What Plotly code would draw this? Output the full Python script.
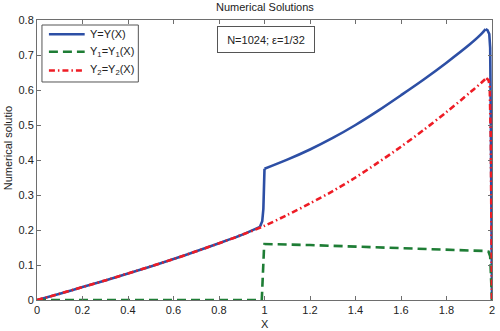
import plotly.graph_objects as go

# Solution Y on [0, 2]
x_y = [0, 0.1, 0.2, 0.3, 0.4, 0.5, 0.6, 0.7, 0.8, 0.9, 0.98, 0.99, 0.995, 0.998, 1.0,
       1.1, 1.2, 1.3, 1.4, 1.5, 1.6, 1.7, 1.8, 1.9, 1.95, 1.972, 1.98, 1.988, 1.992,
       1.995, 1.998, 2.0]
y_y = [0, 0.018, 0.037, 0.056, 0.076, 0.096, 0.117, 0.139, 0.162, 0.186, 0.209, 0.225,
       0.26, 0.32, 0.375, 0.401, 0.430, 0.463, 0.500, 0.541, 0.585, 0.630, 0.678, 0.729,
       0.758, 0.774, 0.771, 0.760, 0.72, 0.5, 0.15, 0]

# First component Y1
x_y1 = [0, 0.5, 0.988, 0.998, 1.0, 1.2, 1.4, 1.6, 1.8, 1.97, 1.985, 1.992, 1.996, 2.0]
y_y1 = [0, 0, 0, 0.15, 0.160, 0.157, 0.153, 0.149, 0.145, 0.140, 0.138, 0.125, 0.06, 0]

# Second component Y2
x_y2 = [0, 0.1, 0.2, 0.3, 0.4, 0.5, 0.6, 0.7, 0.8, 0.9, 1.0, 1.1, 1.2, 1.3, 1.4, 1.5,
        1.6, 1.7, 1.8, 1.9, 1.95, 1.975, 1.985, 1.99, 1.995, 1.998, 2.0]
y_y2 = [0, 0.018, 0.037, 0.056, 0.076, 0.096, 0.117, 0.139, 0.162, 0.186, 0.212, 0.243,
        0.276, 0.311, 0.350, 0.393, 0.438, 0.486, 0.537, 0.591, 0.619, 0.634, 0.628,
        0.61, 0.45, 0.15, 0]

x_ticks = [0, 0.2, 0.4, 0.6, 0.8, 1, 1.2, 1.4, 1.6, 1.8, 2]
x_tick_text = ["0", "0.2", "0.4", "0.6", "0.8", "1", "1.2", "1.4", "1.6", "1.8", "2"]
y_ticks = [0, 0.1, 0.2, 0.3, 0.4, 0.5, 0.6, 0.7, 0.8]
y_tick_text = ["0", "0.1", "0.2", "0.3", "0.4", "0.5", "0.6", "0.7", "0.8"]

series_names = ["Y=Y(X)",
                "Y<sub>1</sub>=Y<sub>1</sub>(X)",
                "Y<sub>2</sub>=Y<sub>2</sub>(X)"]

FONT = "Liberation Sans, Arial, sans-serif"
AXIS_GRAY = "#6e6e6e"
TEXT = "#222"
LW = 2.6
styles = [dict(color="#2d4fa5", width=LW),
          dict(color="#1e7d35", width=LW, dash="9px,5px"),
          dict(color="#ee1c25", width=LW, dash="6px,3px,1.5px,3px")]

# smooth stretches use splines, steep jumps and the final drop stay straight
pieces = [
    [(0.0, 0.98, "spline"), (0.98, 1.0, "linear"), (1.0, 1.972, "spline"),
     (1.972, 2.0, "linear")],
    [(0.0, 2.0, "linear")],
    [(0.0, 1.975, "spline"), (1.975, 2.0, "linear")],
]

fig = go.Figure()
for xs, ys, segs, st, nm in zip((x_y, x_y1, x_y2), (y_y, y_y1, y_y2), pieces,
                                styles, series_names):
    for lo, hi, shape in segs:
        idx = [i for i, v in enumerate(xs) if lo <= v <= hi]
        fig.add_trace(go.Scatter(
            x=[xs[i] for i in idx], y=[ys[i] for i in idx], mode="lines",
            name=nm, legendgroup=nm, showlegend=False,
            line=dict(shape=shape, smoothing=0.8, **st)))

axis_common = dict(showgrid=False, zeroline=False, showline=True, linecolor=AXIS_GRAY,
                   linewidth=1, mirror="allticks", ticks="inside", ticklen=4,
                   tickcolor=AXIS_GRAY, tickfont=dict(family=FONT, size=11, color=TEXT))

fig.update_layout(
    width=500, height=331,
    margin=dict(l=37, r=5, t=20, b=31),
    paper_bgcolor="white", plot_bgcolor="white",
    font=dict(family=FONT, size=11, color=TEXT),
    xaxis=dict(range=[0, 2], tickvals=x_ticks, ticktext=x_tick_text, **axis_common),
    yaxis=dict(range=[0, 0.8], tickvals=y_ticks, ticktext=y_tick_text, **axis_common),
    showlegend=False,
)

# legend box with line samples
fig.add_shape(type="rect", xref="paper", yref="paper",
              x0=0.0109, x1=0.2227, y0=0.7786, y1=0.9821,
              line=dict(color="#555", width=1), fillcolor="white", layer="above")
sample_y = [0.9489, 0.8868, 0.8196]
label_y = [0.9489, 0.8857, 0.8214]
for st, sy, ly, nm in zip(styles, sample_y, label_y, series_names):
    fig.add_shape(type="line", xref="paper", yref="paper",
                  x0=0.0262, x1=0.1048, y0=sy, y1=sy, layer="above",
                  line=dict(color=st["color"], width=st["width"],
                            dash=st.get("dash", "solid")))
    fig.add_annotation(text=nm, xref="paper", yref="paper", x=0.1114, y=ly,
                       xanchor="left", yanchor="middle", showarrow=False,
                       font=dict(family=FONT, size=11, color=TEXT))

fig.add_annotation(text="Numerical Solutions", xref="paper", yref="paper",
                   x=0.5, y=1.046, xanchor="center", yanchor="middle",
                   showarrow=False, font=dict(family=FONT, size=11, color=TEXT))
fig.add_annotation(text="X", xref="paper", yref="paper",
                   x=0.5, y=-0.0857, xanchor="center", yanchor="middle",
                   showarrow=False, font=dict(family=FONT, size=11, color=TEXT))
fig.add_annotation(text="Numerical solutio", xref="paper", yref="paper",
                   x=-0.063, y=0.543, xanchor="center", yanchor="middle",
                   textangle=-90, showarrow=False,
                   font=dict(family=FONT, size=11, color=TEXT))
fig.add_annotation(text="N=1024; \u03b5=1/32", xref="paper", yref="paper",
                   x=0.504, y=0.930, xanchor="center", yanchor="middle",
                   showarrow=False, width=84, height=13, borderpad=6,
                   bordercolor="#555", borderwidth=1, bgcolor="white",
                   font=dict(family=FONT, size=11, color=TEXT))

fig.write_html("out.html")
